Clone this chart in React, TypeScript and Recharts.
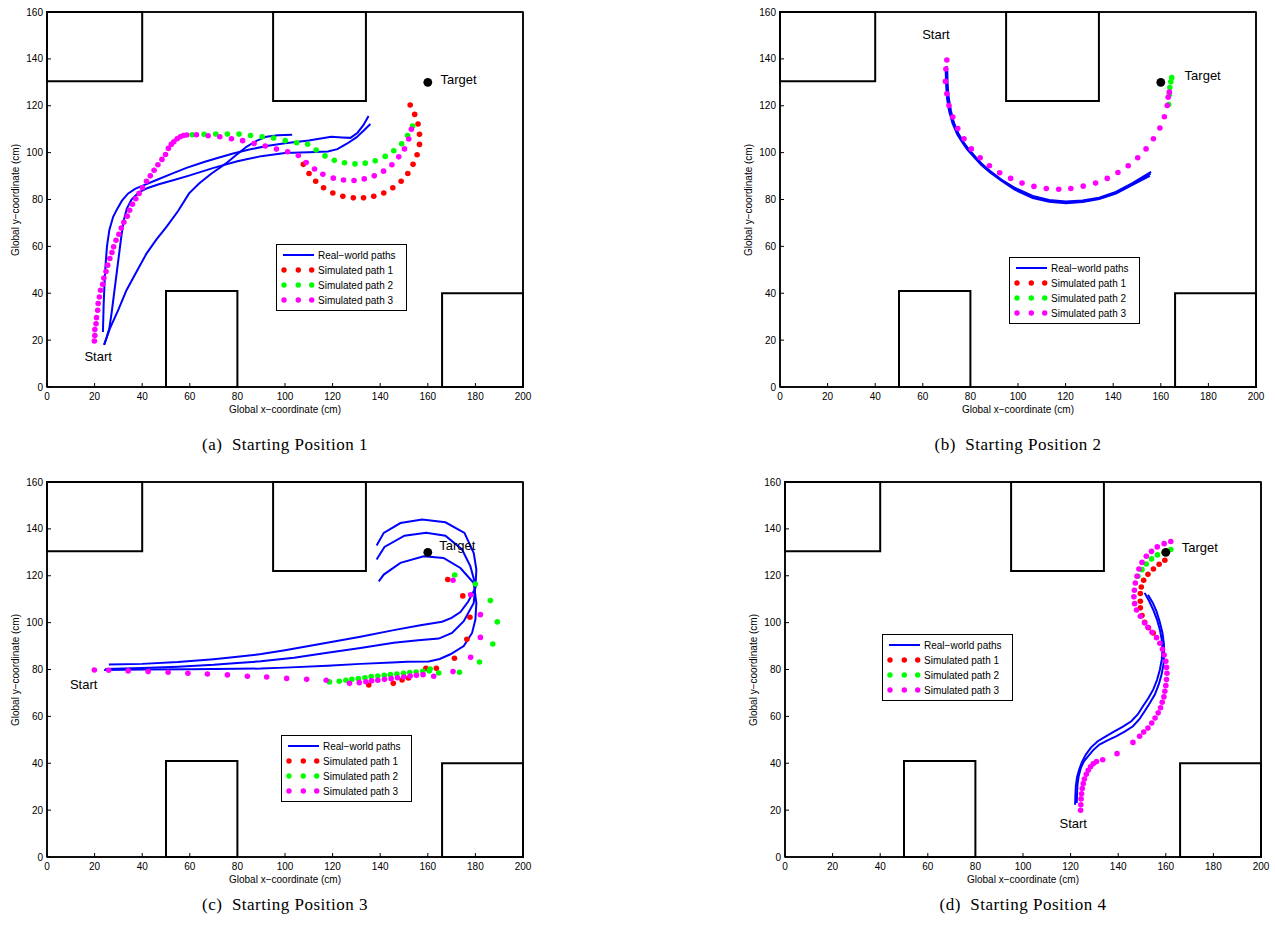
import React from 'react';
import { ComposedChart, Line, Scatter, XAxis, YAxis, ReferenceArea, ReferenceDot } from 'recharts';

type Pt = [number, number];

const xTicks = [0, 20, 40, 60, 80, 100, 120, 140, 160, 180, 200];
const yTicks = [0, 20, 40, 60, 80, 100, 120, 140, 160];

// obstacles as [x1, x2, y1, y2]
const obstacles: [number, number, number, number][] = [
  [0, 40, 130.5, 160],
  [95, 134, 122, 160],
  [50, 80, 0, 41],
  [166, 200, 0, 40],
];
const target: Pt = [160, 130];

const legendLabels = ['Real\u2212world paths', 'Simulated path 1', 'Simulated path 2', 'Simulated path 3'];

// ---- (a) Starting Position 1
const aReal1: Pt[] = [[23.5,23.5],[23.8,35],[24.2,45],[24.6,52],[25.2,60],[26.2,67],[27.8,72.6],[29.5,76],[31.5,79.5],[34,82.5],[37,84.5],[40,85.8],[46,88.3],[52,90.8],[58.6,93.5],[66,96],[72,97.8],[78.2,99.6],[85,101.3],[92.2,102.8],[100,104],[110,105.2],[119.4,106.8],[124,106.5],[127.5,106.3],[130.5,108.5],[133,111.8],[135.1,115.6]];
const aReal2: Pt[] = [[24,18],[25,21],[26.2,25],[27.2,32],[28.2,40],[29.2,48],[30.2,56],[31.2,64],[32.2,71],[33.5,76],[35.5,80],[38.5,83],[42,84.8],[47,86.5],[53,88.2],[60,90.3],[70,93.5],[80,96.3],[90,98.5],[100,99.8],[110,100.2],[118,100.5],[122,101.5],[126,103.8],[130,106.5],[133,109.3],[135.9,112.2]];
const aReal3: Pt[] = [[24,18],[26.4,24.9],[30,33],[33.4,41.3],[37.5,49],[41.8,56.9],[46,63],[50.2,68.3],[55,75],[59.7,82.6],[63.9,86.8],[69,91],[75.2,95.4],[79.5,99],[83.8,102.5],[88,105],[92.2,106.8],[97,107.4],[103,107.6]];
const aSim1: Pt[] = [[107.7,95],[110.1,91.1],[112.9,87.8],[116.2,85],[120.1,82.8],[124.3,81.4],[128.7,80.7],[133,80.7],[137.3,81.4],[141.5,82.8],[145.3,85],[148.8,87.8],[151.6,91.1],[153.8,95],[155.5,99.1],[156.5,103.5],[156.5,107.8],[155.9,112.2],[154.5,116.3],[152.6,120.3]];
const aSim2: Pt[] = [[61,107.6],[66,107.8],[70.9,107.9],[75.8,107.9],[80.7,107.9],[85.5,107.3],[90.4,106.8],[95.2,106.2],[100.1,105.1],[104.9,104.2],[109.5,103.6],[113.1,101.1],[116.8,98.6],[120.7,96.7],[125,95.7],[129.4,95.2],[133.7,95.5],[137.9,96.5],[142.1,98.4],[145.7,100.8],[149,103.8],[151.5,107.3],[153.6,111.3]];
const aSim3: Pt[] = [[19.9,19.6],[20.1,22],[20.1,24.5],[20.6,27],[20.8,29.6],[21.3,32.7],[21.5,35.6],[22,38.4],[22.5,41.3],[23.4,43.8],[23.9,46.5],[24.8,49.3],[25.5,52],[26.4,54.8],[27.3,57.4],[28,59.8],[29,62.6],[30.2,65.2],[31.2,67.8],[32.3,70.3],[33.7,72.9],[34.7,75.4],[35.9,78],[37.3,80.3],[38.7,82.6],[40.1,85],[41.8,87.8],[43.4,90.1],[45,92.5],[46.6,94.8],[48.3,97.1],[49.8,99.2],[51,101.8],[52.2,103.5],[53.3,104.6],[54.7,105.9],[56,106.8],[57.3,107.3],[58.7,107.5],[62.8,107.6],[67.7,107.2],[72.6,106.8],[77.5,105.9],[82.2,105.1],[87,103.9],[91.7,102.8],[96.4,101.5],[101.1,100.4],[105.6,98.8],[108.9,95.8],[112.4,93],[115.9,90.8],[120.3,89.1],[124.6,88.3],[129,88.1],[133.3,88.8],[137.5,90.1],[141.4,92.1],[144.9,94.8],[147.8,98.2],[150.2,101.6],[152,105.8],[153.1,110]];

// ---- (b) Starting Position 2
const bReal1: Pt[] = [[70,137],[70.2,130],[70.6,124],[71.5,118],[72.8,113],[74.8,108.2],[77,104.5],[79,101.8],[82,98.3],[84.6,95.4],[88,92.4],[93,88.5],[98.6,85],[106.2,81.5],[113.1,79.8],[120.1,79.2],[127.1,79.6],[134.1,80.8],[141.1,83.2],[148.1,87],[155.9,91.8]];
const bReal2: Pt[] = [[69.6,136],[69.8,129],[70.2,123],[71.1,117.5],[72.5,112.5],[74.5,107.7],[76.8,104],[78.8,101.2],[81.8,97.8],[84.5,94.8],[88,91.7],[93,88],[98.6,84.2],[106.2,80.6],[113.1,79],[120.1,78.4],[127.1,78.9],[134.1,80.2],[141.1,82.5],[148.1,86.2],[155.4,90.1]];
const bReal3: Pt[] = [[70.3,135],[70.4,129],[70.9,123.5],[71.8,118],[73,113],[75,108],[77.2,104.2],[79.2,101.5],[82.2,98],[84.8,95.1],[88.2,92],[93.2,88.2],[98.8,84.6],[106.4,81],[113.3,79.4],[120.3,78.8],[127.3,79.2],[134.3,80.5],[141.3,82.9],[148.3,86.6],[155.7,91]];
const bSim1: Pt[] = [];
const bSim2: Pt[] = [[163.3,120.5],[163.6,124.7],[163.8,127.8],[164.2,130.2],[164.6,132]];
const bSim3: Pt[] = [[70.1,139.5],[69.7,135.7],[69.5,130.4],[70.1,125.1],[71,120.1],[72.6,115.2],[74.7,110.3],[77.3,105.9],[80.4,101.6],[84.1,97.8],[88,94.4],[92.3,91.4],[96.9,89],[101.7,87],[106.7,85.6],[111.9,84.7],[117.1,84.4],[122.2,84.7],[127.4,85.7],[132.6,87],[137.5,89],[142,91.5],[146.3,94.4],[150.3,97.8],[153.8,101.6],[156.9,105.9],[159.6,110.5],[161.5,115.3],[162.7,120.1],[163.1,123.6],[163.6,125.8]];

// ---- (c) Starting Position 3
const cReal1: Pt[] = [[26,82.1],[40,82.4],[55,83.2],[70,84.4],[80,85.4],[90,86.6],[100,88.2],[110,90],[120,91.8],[131.7,94],[145.7,96.8],[156.9,98.9],[166,100.4],[170,102],[173.7,104.5],[177,109],[180,114.8],[180.4,122.6],[179.3,129.7],[175.4,138.3],[167.4,142.8],[157.6,144],[148.5,142.5],[141.5,138.3],[138.5,132.9]];
const cReal2: Pt[] = [[24.5,80.2],[40,80.6],[55,81.2],[70,82],[80,82.8],[89.8,83.5],[103.8,85],[117.8,87.1],[131.7,89.2],[145.7,91.4],[156,92.5],[164.6,93.2],[170.2,95.6],[175.1,100.6],[179.3,108.4],[180,116.2],[177.9,124],[174.4,131.2],[167.4,137.1],[159.3,138.3],[150.2,137.1],[141.8,132.3],[138.5,126.9]];
const cReal3: Pt[] = [[24,79.8],[40,80],[60,80.1],[80,80.3],[89.8,80.4],[100,80.8],[117.8,81.6],[131.7,82.4],[145,83],[151.3,83.3],[160.4,83.4],[165,84.5],[169.5,86.5],[175.1,90],[178.6,95.6],[180,101.3],[180.4,108.4],[179.3,116.9],[173.7,123.3],[166.6,127.6],[158.3,128.3],[148.5,125.5],[141.5,120.5],[139.4,117.6]];
const cSim1: Pt[] = [[135.2,73.4],[145.5,74.1],[149.2,75.5],[151.9,76.4],[159.2,80.5],[163.6,80.5],[171.2,84.8],[176.4,92.9],[177.7,102.3],[174.7,111.4],[168.4,118.4]];
const cSim2: Pt[] = [[118.7,74.7],[122.8,75],[125.6,75.4],[128.1,75.8],[130.8,76.1],[133.6,76.5],[136.2,77],[139,77.2],[141.7,77.5],[144.3,77.8],[147,78.1],[149.8,78.4],[152.4,78.7],[155.1,78.9],[157.9,79.2],[160.6,79.4],[161,80.2],[164.6,78.5],[173.3,78.8],[181.7,83.2],[187.3,90.9],[189.2,100.3],[186.3,109.4],[180,116.5],[171.3,120.3]];
const cSim3: Pt[] = [[19.9,79.8],[25.9,79.7],[34.1,79.4],[42.5,79.1],[50.9,78.8],[59.2,78.4],[67.4,78.1],[75.8,77.7],[84.2,77.1],[92.3,76.8],[100.7,76.2],[109.1,75.8],[117.3,75.4],[127.1,74.1],[131.2,74.4],[134,74.8],[136.4,75.2],[139,75.4],[141.8,75.8],[144.6,76.1],[147.3,76.5],[149.9,76.8],[152.6,77.2],[155.2,77.5],[158,77.8],[162.5,77.1],[170.6,79.1],[178,85.2],[182.1,93.7],[182.1,103.4],[178,111.9],[170.6,118.1]];

// ---- (d) Starting Position 4
const dReal1: Pt[] = [[121.9,22.3],[122,26],[122.2,30.2],[122.7,34],[123.6,37.3],[124.8,40.6],[126.4,43.7],[128.6,46.8],[131.4,49.4],[134.8,51.5],[138.4,53.6],[142,55.6],[145.5,57.9],[148.2,60.8],[150.4,64.3],[152.7,67.8],[154.7,71.4],[156.3,75.5],[157.5,79.9],[158.3,84.2],[158.6,88.5],[158.3,92.8],[157.5,97],[156.3,101.3],[154.7,105.5],[153,109.2],[151.1,112.7]];
const dReal2: Pt[] = [[122.6,23],[122.7,27],[122.9,30.9],[123.4,34.5],[124.3,38],[125.6,40.8],[127.4,43],[129.5,45.6],[132.1,48],[135.5,49.8],[139.1,51.5],[142.7,53.5],[146.2,55.8],[148.9,58.8],[151.1,62.2],[153.3,65.7],[155.4,69.3],[157,73.5],[158.2,77.8],[159,82],[159.3,86.3],[159.2,91],[158.6,95.6],[157.5,100.2],[156.1,104.8],[154.5,108.5],[152.5,111.9]];
const dSim1: Pt[] = [[154.7,95.6],[152.7,97.8],[151.1,100.1],[150,103],[149.3,106.3],[149.3,109.1],[149.3,112.4],[149.7,115.2],[150.7,118.1],[152.5,120.6],[154.8,122.9],[157.2,124.9],[159.6,126.6]];
const dSim2: Pt[] = [[148.3,119.8],[150,122.6],[151.8,125],[154,127.2],[156.5,128.9],[159.3,130],[162.1,131.2]];
const dSim3: Pt[] = [[124.2,19.9],[124.3,22.3],[124.4,24.8],[124.6,27],[124.9,29.2],[125.3,31.3],[125.8,33.3],[126.6,35.3],[127.4,37],[128.4,38.5],[129.5,39.8],[130.9,40.7],[133.5,41.5],[139.5,44.1],[146.2,48.9],[149,51.5],[150.7,53.3],[152.5,55],[154.1,57.2],[155.5,59.3],[156.8,61.5],[157.8,63.7],[158.5,66],[159.2,68.3],[159.6,70.7],[160,73.1],[160.3,75.7],[160.5,78.4],[160.3,80.9],[160,83.5],[159.3,86.2],[158.6,88.6],[157.5,91.2],[156.1,93.6],[154.2,95.9],[152.5,98],[151.1,99.9],[149.3,102.7],[147.7,105.4],[146.9,108.1],[146.6,111],[146.8,113.8],[147.2,116.9],[147.9,119.8],[148.7,122.9],[150,125.7],[151.8,128.3],[154,130.4],[156.4,132.3],[159.3,133.7],[162.1,134.6]];

const BLUE = '#0000ff';
const simColors = ['#ff0000', '#00ff00', '#ff00ff'];
const SANS = '"Liberation Sans", Arial, Helvetica, sans-serif';
const SERIF = '"Liberation Serif", "Times New Roman", serif';

const toObj = (pts: Pt[]) => pts.map(([x, y]) => ({ x, y }));

interface PanelDef {
  left: number;
  top: number;
  caption: string;
  captionY: number;
  real: Pt[][];
  sims: Pt[][];
  start: Pt;
  targetLabel: Pt;
  legend: { left: number; top: number };
}

const panels: PanelDef[] = [
  { left: 0, top: 0, caption: '(a)  Starting Position 1', captionY: 445, real: [aReal1, aReal2, aReal3], sims: [aSim1, aSim2, aSim3], start: [21.5, 13.2], targetLabel: [165.3, 131.4], legend: { left: 276, top: 244 } },
  { left: 733, top: 0, caption: '(b)  Starting Position 2', captionY: 445, real: [bReal1, bReal2, bReal3], sims: [bSim1, bSim2, bSim3], start: [65.5, 150.5], targetLabel: [170, 132.7], legend: { left: 276, top: 257 } },
  { left: 0, top: 470, caption: '(c)  Starting Position 3', captionY: 435, real: [cReal1, cReal2, cReal3], sims: [cSim1, cSim2, cSim3], start: [15.4, 73.8], targetLabel: [164.8, 133], legend: { left: 281, top: 265 } },
  { left: 738, top: 470, caption: '(d)  Starting Position 4', captionY: 435, real: [dReal1, dReal2], sims: [dSim1, dSim2, dSim3], start: [121.1, 14.5], targetLabel: [166.7, 132], legend: { left: 144, top: 164 } },
];

function LegendBox({ left, top }: { left: number; top: number }) {
  const rows = [11, 26, 41, 56];
  return (
    <svg style={{ position: 'absolute', left, top }} width={131} height={67}>
      <rect x={0.5} y={0.5} width={130} height={66} fill="#fff" stroke="#000" strokeWidth={1} />
      <line x1={7} x2={38} y1={rows[0]} y2={rows[0]} stroke={BLUE} strokeWidth={2} />
      {simColors.map((c, i) =>
        [8, 22.3, 35.7].map((dx) => <circle key={`${i}-${dx}`} cx={dx} cy={rows[i + 1]} r={2.7} fill={c} />)
      )}
      {legendLabels.map((t, i) => (
        <text key={t} x={42} y={rows[i]} dominantBaseline="central" fontSize={10} fontFamily={SANS} fill="#000">
          {t}
        </text>
      ))}
    </svg>
  );
}

const axisLine = { stroke: '#000', strokeWidth: 1.5 };
const tickLine = { stroke: '#000', strokeWidth: 1 };
const tickFont = { fontSize: 10, fill: '#000', fontFamily: SANS };

function Panel({ p }: { p: PanelDef }) {
  return (
    <div style={{ position: 'absolute', left: p.left, top: p.top, width: 540, height: 460 }}>
      <ComposedChart width={540} height={430} margin={{ top: 11, right: 16, bottom: 21, left: 12 }}>
        <XAxis type="number" dataKey="x" domain={[0, 200]} ticks={xTicks} interval={0} allowDataOverflow
          height={22} tickSize={-4} tickMargin={10} axisLine={axisLine} tickLine={tickLine} tick={tickFont} />
        <XAxis xAxisId="top" orientation="top" type="number" domain={[0, 200]} ticks={xTicks} interval={0}
          height={1} tickSize={-4} tick={false} axisLine={axisLine} tickLine={tickLine} />
        <YAxis type="number" dataKey="y" domain={[0, 160]} ticks={yTicks} interval={0} allowDataOverflow
          width={35} tickSize={-4} tickMargin={8} axisLine={axisLine} tickLine={tickLine} tick={tickFont} />
        <YAxis yAxisId="right" orientation="right" type="number" domain={[0, 160]} ticks={yTicks} interval={0}
          width={1} tickSize={-4} tick={false} axisLine={axisLine} tickLine={tickLine} />
        {/* plot frame */}
        <ReferenceArea x1={0} x2={200} y1={0} y2={160} fill="none" fillOpacity={0}
          stroke="#000" strokeWidth={1.5} ifOverflow="visible" />
        {obstacles.map(([x1, x2, y1, y2], i) => (
          <ReferenceArea key={`o${i}`} x1={x1} x2={x2} y1={y1} y2={y2} fill="none" fillOpacity={0}
            stroke="#000" strokeWidth={2} ifOverflow="visible" />
        ))}
        {p.real.map((pts, i) => (
          <Line key={`r${i}`} data={toObj(pts)} dataKey="y" type="linear" stroke={BLUE} strokeWidth={2}
            dot={false} activeDot={false} isAnimationActive={false} legendType="none" />
        ))}
        {p.sims.map((pts, i) => (
          <Scatter key={`s${i}`} data={toObj(pts)} isAnimationActive={false} legendType="none"
            shape={(sp: any) => <circle cx={sp.cx} cy={sp.cy} r={2.8} fill={simColors[i]} />} />
        ))}
        <ReferenceDot x={target[0]} y={target[1]} r={4.4} fill="#000" stroke="none" />
        <ReferenceDot x={p.start[0]} y={p.start[1]} r={0}
          shape={(sp: any) => (
            <text x={sp.cx} y={sp.cy} textAnchor="middle" dominantBaseline="central" fontSize={13} fontFamily={SANS} fill="#000">Start</text>
          )} />
        <ReferenceDot x={p.targetLabel[0]} y={p.targetLabel[1]} r={0}
          shape={(sp: any) => (
            <text x={sp.cx} y={sp.cy} textAnchor="start" dominantBaseline="central" fontSize={13} fontFamily={SANS} fill="#000">Target</text>
          )} />
      </ComposedChart>
      <div style={{ position: 'absolute', left: 15, top: 199.5, transform: 'translate(-50%, -50%) rotate(-90deg)',
        whiteSpace: 'nowrap', fontSize: 10, fontFamily: SANS, color: '#000' }}>
        Global y{'\u2212'}coordinate (cm)
      </div>
      <div style={{ position: 'absolute', left: 285, top: 409, transform: 'translate(-50%, -50%)',
        whiteSpace: 'nowrap', fontSize: 10, fontFamily: SANS, color: '#000' }}>
        Global x{'\u2212'}coordinate (cm)
      </div>
      <LegendBox left={p.legend.left} top={p.legend.top} />
      <div style={{ position: 'absolute', left: 285, top: p.captionY, transform: 'translate(-50%, -50%)',
        whiteSpace: 'pre', fontSize: 17, letterSpacing: 0.5, fontFamily: SERIF, color: '#000' }}>
        {p.caption}
      </div>
    </div>
  );
}

export default function App() {
  return (
    <div style={{ position: 'absolute', left: 0, top: 0, width: 1275, height: 929, background: '#fff' }}>
      {panels.map((p) => (
        <Panel key={p.caption} p={p} />
      ))}
    </div>
  );
}
